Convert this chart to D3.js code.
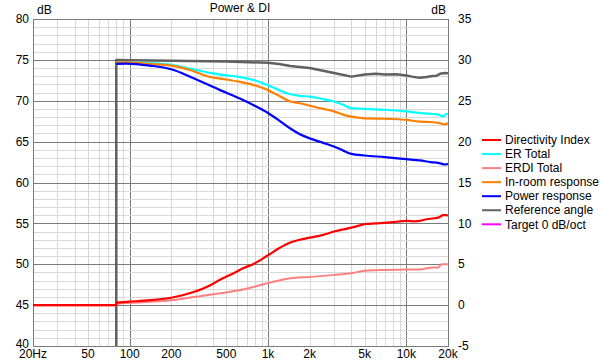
<!DOCTYPE html>
<html>
<head>
<meta charset="utf-8">
<script src="https://cdn.jsdelivr.net/npm/d3@7"></script>
<style>
  body { margin: 0; background: #fff; }
  text { font-family: "Liberation Sans", Arial, sans-serif; font-size: 12px; fill: #000; }
</style>
</head>
<body>
<script>
// frequency / dB pairs
const diData = [[20,0],[80,0],[80,0.3],[95,0.4],[140,0.6],[200,0.9],[290,1.6],[380,2.4],[450,3.1],[550,3.8],[660,4.5],[800,5.1],[1000,6.1],[1200,6.95],[1450,7.65],[1700,8.0],[2000,8.25],[2500,8.6],[3000,9.0],[3600,9.3],[4300,9.6],[5000,9.9],[6000,10.0],[7300,10.1],[8500,10.2],[10000,10.3],[11500,10.25],[12500,10.3],[14000,10.5],[15500,10.6],[17000,10.7],[18500,11.0],[19500,11.0],[20000,10.95]];
const erTotal = [[80,74.7],[95,74.7],[140,74.6],[200,74.4],[280,73.9],[380,73.4],[500,73.1],[630,72.9],[800,72.5],[1000,71.9],[1200,71.3],[1450,70.8],[1700,70.6],[2000,70.5],[2500,70.2],[3000,69.9],[3500,69.5],[4000,69.1],[5000,69.0],[7000,68.9],[10000,68.7],[12500,68.5],[15000,68.4],[17000,68.3],[18500,68.1],[19500,68.4],[20000,68.3]];
const erdiData = [[20,0],[80,0],[80,0.2],[95,0.25],[140,0.4],[200,0.6],[290,1.0],[450,1.45],[660,1.9],[1000,2.7],[1450,3.3],[2000,3.45],[3000,3.7],[4000,3.9],[5000,4.2],[7000,4.3],[10000,4.35],[13000,4.4],[15500,4.6],[17000,4.6],[18000,5.0],[20000,5.0]];
const inRoom = [[80,74.7],[95,74.7],[140,74.5],[200,74.3],[280,73.7],[380,72.9],[500,72.6],[630,72.3],[800,71.9],[1000,71.3],[1200,70.6],[1450,69.9],[1700,69.7],[2000,69.4],[2500,69.0],[3000,68.7],[3500,68.3],[4000,68.05],[5000,67.85],[7000,67.8],[10000,67.65],[12500,67.45],[15000,67.4],[17000,67.3],[19000,67.1],[20000,67.3]];
const powerResp = [[80,74.5],[95,74.55],[140,74.3],[200,73.85],[290,72.75],[450,71.3],[660,70.1],[800,69.4],[1000,68.5],[1200,67.6],[1450,66.6],[1700,65.9],[2000,65.4],[2500,64.85],[3000,64.4],[3500,63.9],[4000,63.5],[5000,63.3],[7000,63.1],[10000,62.85],[12500,62.7],[15000,62.5],[17000,62.4],[19000,62.2],[20000,62.3]];
const refAngle = [[80,40],[80,75],[100,74.95],[200,74.9],[500,74.8],[1000,74.65],[1200,74.5],[1450,74.25],[2000,74.0],[3000,73.4],[4000,72.95],[5000,73.2],[6000,73.3],[7000,73.2],[8500,73.25],[10000,73.1],[11000,72.95],[12500,72.8],[14000,72.9],[15000,73.0],[16500,73.05],[17500,73.3],[19000,73.4],[20000,73.35]];

const legendNames = ["Directivity Index","ER Total","ERDI Total","In-room response","Power response","Reference angle","Target 0 dB/oct"];
const legendColors = ["#ff0000","#00ffff","#ff8080","#ff8000","#0000ff","#606060","#ff00ff"];

const xTicks = [20,50,100,200,500,1000,2000,5000,10000,20000];
const xTickLabels = ["20Hz","50","100","200","500","1k","2k","5k","10k","20k"];
const leftTicks = [40,45,50,55,60,65,70,75,80];
const rightTicks = [-5,0,5,10,15,20,25,30,35];

const W = 600, H = 364;
const margin = {top: 19, left: 33, bottom: 18, right: 152};
const width = W - margin.left - margin.right;
const height = H - margin.top - margin.bottom;

const svg = d3.select("body").append("svg")
  .attr("width", W).attr("height", H);

const x = d3.scaleLog().domain([20, 20000]).range([0, width]);
const y = d3.scaleLinear().domain([40, 80]).range([height, 0]);
const yR = d3.scaleLinear().domain([-5, 35]).range([height, 0]);

const g = svg.append("g").attr("transform", `translate(${margin.left},${margin.top})`);

// grid
const minorX = [];
[10, 100, 1000, 10000].forEach(dec => {
  for (let k = 1; k <= 9; k++) {
    const f = dec * k;
    if (f >= 20 && f <= 20000) minorX.push(f);
  }
});
const minorY = d3.range(40, 81, 1);

g.selectAll(".gx").data(minorX).enter().append("line")
  .attr("x1", d => Math.round(x(d)) + 0.5).attr("x2", d => Math.round(x(d)) + 0.5)
  .attr("y1", 0).attr("y2", height)
  .attr("stroke", d => [100, 1000, 10000].includes(d) ? "#7a7a7a" : "#d9d9d9");
g.selectAll(".gy").data(minorY).enter().append("line")
  .attr("y1", d => Math.round(y(d)) + 0.5).attr("y2", d => Math.round(y(d)) + 0.5)
  .attr("x1", 0).attr("x2", width)
  .attr("stroke", d => d % 5 === 0 ? "#7a7a7a" : "#d9d9d9");
g.append("rect").attr("x", 0.5).attr("y", 0.5).attr("width", width).attr("height", height)
  .attr("fill", "none").attr("stroke", "#7a7a7a");

// axes labels
g.selectAll(".ly").data(leftTicks).enter().append("text")
  .attr("x", -4).attr("y", d => y(d) - (d === 40 ? 2 : 0)).attr("dy", "0.35em")
  .attr("text-anchor", "end").text(d => d);
g.selectAll(".ry").data(rightTicks).enter().append("text")
  .attr("x", width + 10).attr("y", d => yR(d)).attr("dy", "0.35em")
  .text(d => d);
g.selectAll(".lx").data(xTicks).enter().append("text")
  .attr("x", d => x(d)).attr("y", height + 12)
  .attr("text-anchor", "middle").text((d, i) => xTickLabels[i]);

g.append("text").attr("x", 4).attr("y", -5).text("dB");
g.append("text").attr("x", width - 2).attr("y", -5).attr("text-anchor", "end").text("dB");
svg.append("text").attr("x", 240).attr("y", 12).attr("text-anchor", "middle").text("Power & DI");

// curves
g.append("clipPath").attr("id", "clip").append("rect")
  .attr("width", width).attr("height", height);

const lineL = d3.line().x(d => x(d[0])).y(d => y(d[1])).curve(d3.curveMonotoneX);
const lineR = d3.line().x(d => x(d[0])).y(d => yR(d[1])).curve(d3.curveMonotoneX);
const lineRef = d3.line().x(d => x(d[0])).y(d => y(d[1])).curve(d3.curveLinear);

const curves = g.append("g").attr("clip-path", "url(#clip)");
function addCurve(data, gen, color, w) {
  curves.append("path").datum(data)
    .attr("d", gen).attr("fill", "none")
    .attr("stroke", color).attr("stroke-width", w)
    .attr("stroke-linejoin", "round");
}
addCurve(refAngle, lineRef, "#606060", 2.5);
addCurve(erdiData, lineR, "#ff8080", 2);
addCurve(erTotal, lineL, "#00ffff", 2.2);
addCurve(inRoom, lineL, "#ff8000", 2.2);
addCurve(powerResp, lineL, "#0000ff", 2.2);
addCurve(diData, lineR, "#ff0000", 2.2);

// legend
const legend = svg.append("g").attr("transform", "translate(482,140)");
const items = legend.selectAll("g").data(legendNames).enter().append("g")
  .attr("transform", (d, i) => `translate(0,${i * 14.05})`);
items.append("line").attr("x1", 0).attr("x2", 19).attr("y1", 0).attr("y2", 0)
  .attr("stroke", (d, i) => legendColors[i]).attr("stroke-width", 2);
items.append("text").attr("x", 23).attr("dy", "0.35em").text(d => d);
</script>
</body>
</html>
